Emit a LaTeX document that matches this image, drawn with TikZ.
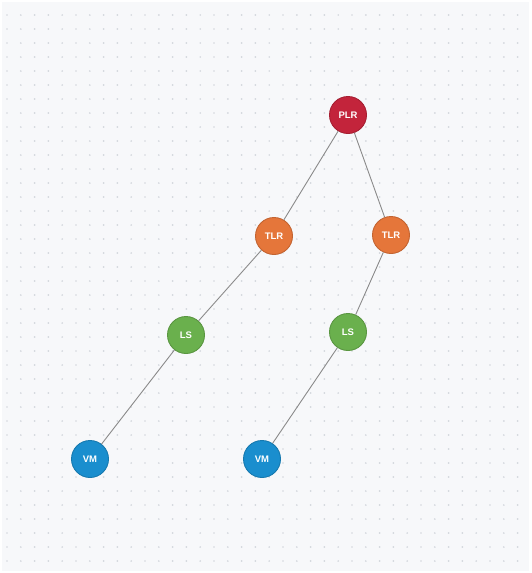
\documentclass[tikz,border=0pt]{standalone}
\usepackage{fontspec}
\setmainfont{Liberation Sans}
\definecolor{bgc}{HTML}{F7F8FA}
\definecolor{dotc}{HTML}{D3D7DD}
\definecolor{plrc}{HTML}{C3243B}
\definecolor{tlrc}{HTML}{E5763A}
\definecolor{lsc}{HTML}{6AB04D}
\definecolor{vmc}{HTML}{1A8ECE}
\definecolor{edgec}{HTML}{8A8A8A}
\tikzset{
  treenode/.style={circle, minimum size=37pt, inner sep=0pt, line width=0.9pt,
    text=white, font=\fontsize{9.5}{11}\selectfont\bfseries},
  plr/.style={treenode, fill=plrc, draw=plrc!85!black},
  tlr/.style={treenode, fill=tlrc, draw=tlrc!85!black},
  lsn/.style={treenode, fill=lsc, draw=lsc!85!black},
  vmn/.style={treenode, fill=vmc, draw=vmc!85!black},
  edge/.style={draw=edgec, line width=0.9pt}
}
\begin{document}
\begin{tikzpicture}[x=1pt,y=-1pt]
\useasboundingbox (0,0) rectangle (531,573);
\fill[white] (0,0) rectangle (531,573);
\fill[bgc] (2,2) rectangle (529,571);
\foreach \i in {0,...,37}{
  \foreach \j in {0,...,39}{
    \fill[dotc] (7+13.8*\i, 15+14*\j) circle (0.95);
  }
}
\node[plr] (p) at (348,115) {PLR};
\node[tlr] (t1) at (274,236) {TLR};
\node[tlr] (t2) at (391,235) {TLR};
\node[lsn] (l1) at (186,335) {LS};
\node[lsn] (l2) at (348,332) {LS};
\node[vmn] (v1) at (90,459) {VM};
\node[vmn] (v2) at (262,459) {VM};
\draw[edge] (p) -- (t1);
\draw[edge] (p) -- (t2);
\draw[edge] (t1) -- (l1);
\draw[edge] (t2) -- (l2);
\draw[edge] (l1) -- (v1);
\draw[edge] (l2) -- (v2);
\end{tikzpicture}
\end{document}
